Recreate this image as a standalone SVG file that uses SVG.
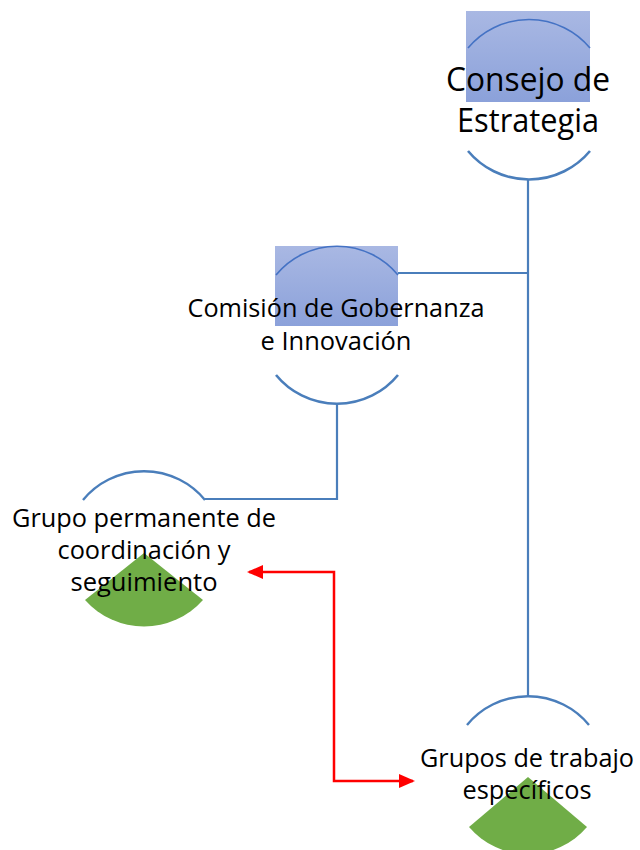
<svg xmlns="http://www.w3.org/2000/svg" width="640" height="850" viewBox="0 0 640 850">
<defs>
<linearGradient id="blueFill" x1="0" y1="0" x2="0" y2="1">
<stop offset="0" stop-color="#A9B8E3"/>
<stop offset="1" stop-color="#8BA1DA"/>
</linearGradient>
<marker id="redArrow" viewBox="0 0 16 14" refX="14" refY="7" markerWidth="16" markerHeight="14" markerUnits="userSpaceOnUse" orient="auto-start-reverse">
<path d="M0,0 L16,7 L0,14 Z" fill="#FF0000"/>
</marker>
<style>
.box{fill:url(#blueFill);}
.arcTop{fill:none;stroke:#4472C4;stroke-width:1.6;}
.arcBot{fill:none;stroke:#4A7EBB;stroke-width:2.6;}
.arcTopG{fill:none;stroke:#4A7EBB;stroke-width:2.4;}
.wedge{fill:#70AD47;}
.lbl{font-family:"Open Sans","Noto Sans","Liberation Sans",sans-serif;fill:#000;text-anchor:middle;}
.conn{fill:none;stroke:#4A7EBB;stroke-width:2.2;}
.red{fill:none;stroke:#FF0000;stroke-width:2.5;}
</style>
</defs>
<rect width="640" height="850" fill="#FFFFFF"/>

<g id="connectors">
<path class="conn" d="M528,180 V696"/>
<path class="conn" d="M398,273 H528"/>
<path class="conn" d="M337,404 V499 H205"/>
<path class="red" d="M249,572 H334 V781 H413" marker-start="url(#redArrow)" marker-end="url(#redArrow)"/>
</g>

<g id="consejo">
<rect class="box" x="466" y="11" width="124" height="91"/>
<path class="arcTop" d="M468,48 A79.5,79.5 0 0 1 590,48"/>
<path class="arcBot" d="M590,151 A79.5,79.5 0 0 1 468,151"/>
<text class="lbl" font-size="33" x="528" y="91" textLength="164" lengthAdjust="spacingAndGlyphs">Consejo de</text>
<text class="lbl" font-size="33" x="528" y="132" textLength="142" lengthAdjust="spacingAndGlyphs">Estrategia</text>
</g>

<g id="comision">
<rect class="box" x="275" y="246" width="123" height="80"/>
<path class="arcTop" d="M276,275 A79,79 0 0 1 398,275"/>
<path class="arcBot" d="M398,375 A79,79 0 0 1 276,375"/>
<text class="lbl" font-size="25" x="336" y="317" textLength="297" lengthAdjust="spacingAndGlyphs">Comisión de Gobernanza</text>
<text class="lbl" font-size="25" x="336" y="350" textLength="151" lengthAdjust="spacingAndGlyphs">e Innovación</text>
</g>

<g id="grupo-permanente">
<path class="wedge" d="M144,553 L85,600 A79,79 0 0 0 203,600 Z"/>
<path class="arcTopG" d="M83,500 A79,79 0 0 1 205,500"/>
<text class="lbl" font-size="25" x="144" y="527" textLength="264" lengthAdjust="spacingAndGlyphs">Grupo permanente de</text>
<text class="lbl" font-size="25" x="144" y="559" textLength="173" lengthAdjust="spacingAndGlyphs">coordinación y</text>
<text class="lbl" font-size="25" x="144" y="591" textLength="147" lengthAdjust="spacingAndGlyphs">seguimiento</text>
</g>

<g id="grupos-trabajo">
<path class="wedge" d="M528,777 L469,827 A77.5,77.5 0 0 0 587,827 Z"/>
<path class="arcTopG" d="M467,725 A79,79 0 0 1 589,725"/>
<text class="lbl" font-size="25" x="527" y="767" textLength="214" lengthAdjust="spacingAndGlyphs">Grupos de trabajo</text>
<text class="lbl" font-size="25" x="527" y="799" textLength="129" lengthAdjust="spacingAndGlyphs">específicos</text>
</g>
</svg>
